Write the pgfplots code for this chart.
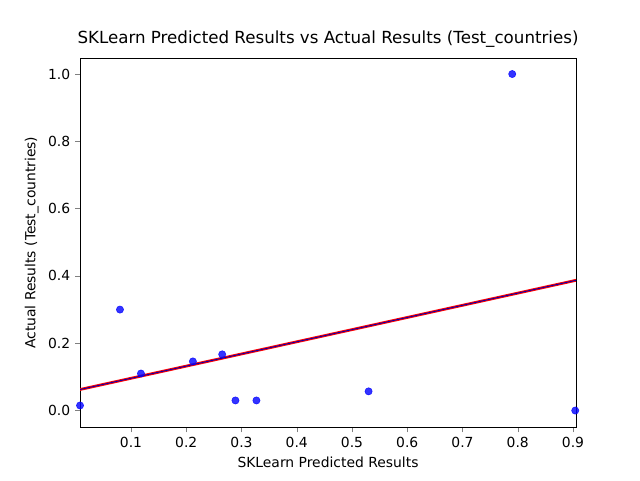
\documentclass[border=0pt]{standalone}
\usepackage{pgfplots}
\pgfplotsset{compat=1.18}
\usepackage{fontspec}
\setmainfont{DejaVu Sans}
\begin{document}
\begin{tikzpicture}
\begin{axis}[
  scale only axis, width=357pt, height=266pt,
  xmin=0.0077, xmax=0.9054, ymin=-0.0506, ymax=1.0476,
  xtick={0.1,0.2,0.3,0.4,0.5,0.6,0.7,0.8,0.9},
  ytick={0,0.2,0.4,0.6,0.8,1.0},
  yticklabels={0.0,0.2,0.4,0.6,0.8,1.0},
  xticklabel style={/pgf/number format/fixed,/pgf/number format/precision=1},
  /pgf/number format/assume math mode=true,
  tick label style={font=\fontsize{10}{12}\selectfont},
  label style={font=\fontsize{10}{12}\selectfont},
  tick align=outside, tick pos=left,
  major tick length=3.5pt,
  title={SKLearn Predicted Results vs Actual Results (Test\_countries)},
  title style={font=\fontsize{12}{14}\selectfont, yshift=-2pt},
  xlabel={SKLearn Predicted Results},
  ylabel={Actual Results (Test\_countries)},
  clip=true,
]
\addplot[only marks, mark=*, mark size=2.6pt, draw=blue, fill=blue, opacity=0.8] coordinates {
(0.0077,0.015) (0.080,0.30) (0.118,0.11) (0.212,0.146) (0.265,0.167)
(0.289,0.03) (0.327,0.03) (0.530,0.057) (0.79,1.0) (0.904,0.0)};
\addplot[red, line width=2pt] coordinates {(0.0077,0.0625) (0.9054,0.387)};
\addplot[blue!70!black, line width=0.6pt] coordinates {(0.0077,0.0625) (0.9054,0.387)};
\coordinate (sw) at (rel axis cs:0,0);
\coordinate (ne) at (rel axis cs:1,1);
\end{axis}
\path[use as bounding box] ([xshift=-57.6pt,yshift=-38.16pt]sw) rectangle ([xshift=46.08pt,yshift=41.76pt]ne);
\end{tikzpicture}
\end{document}
